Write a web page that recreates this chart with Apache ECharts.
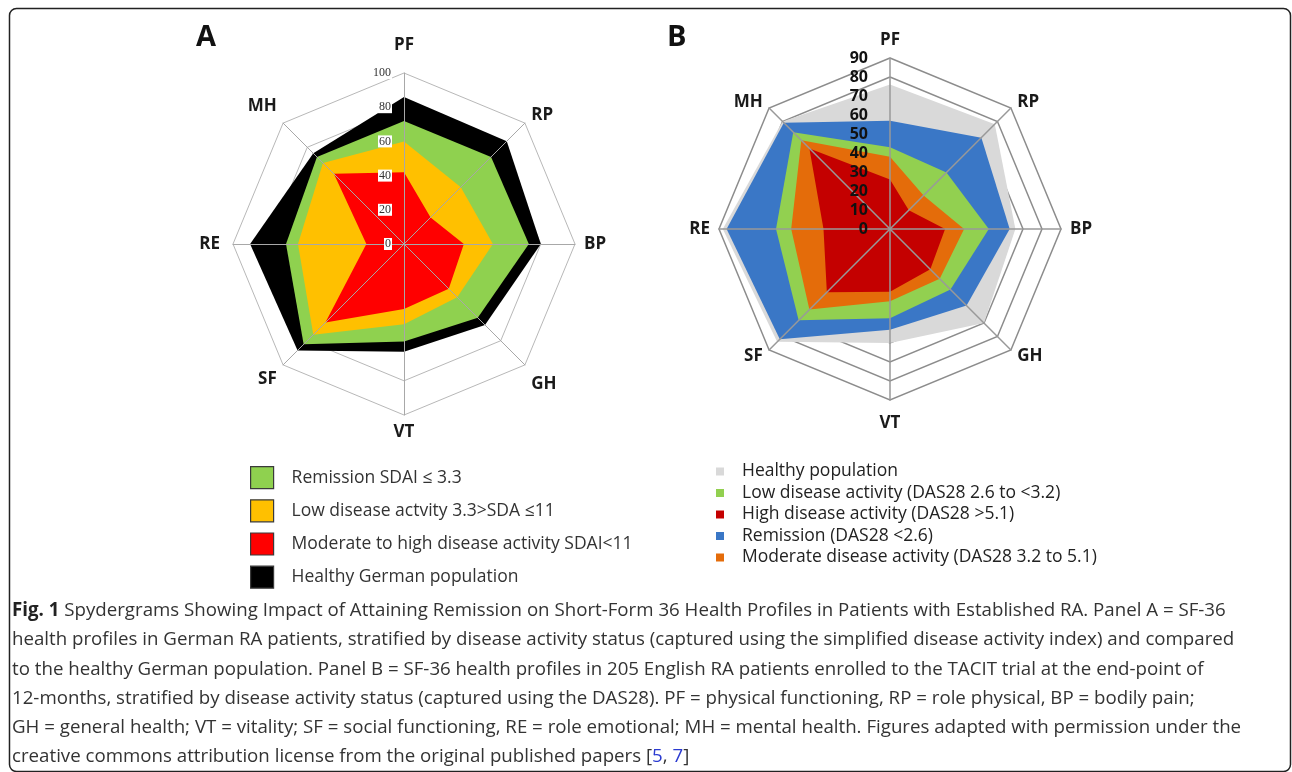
<!DOCTYPE html>
<html><head><meta charset="utf-8">
<script src="https://cdn.jsdelivr.net/npm/echarts@6/dist/echarts.min.js"></script>
<style>html,body{margin:0;padding:0;background:#fff}#c{width:1292px;height:772px}</style>
</head><body><div id="c"></div>
<script>
// Axis names, listed clockwise from the top
const axisNames = ['PF', 'RP', 'BP', 'GH', 'VT', 'SF', 'RE', 'MH'];
const ticksA = [0, 20, 40, 60, 80, 100];
const ticksB = [0, 10, 20, 30, 40, 50, 60, 70, 80, 90];

// Panel A (values per axis, clockwise PF..MH)
const namesA = ['Healthy German population', 'Remission SDAI \u2264 3.3', 'Low disease actvity 3.3>SDA \u226411', 'Moderate to high disease activity SDAI<11'];
const healthyGerman = [86, 85, 80, 67, 63, 88, 90, 75];
const remissionA    = [72, 72, 73, 61, 57, 83, 69, 72];
const lowA          = [60, 47, 52, 44, 47, 75, 62, 67];
const modHighA      = [42, 22, 35, 37, 38, 65, 22, 58];
const legendOrderA = [1, 2, 3, 0];

// Panel B
const namesB = ['Healthy population', 'Remission (DAS28 <2.6)', 'Low disease activity (DAS28 2.6 to <3.2)', 'Moderate disease activity (DAS28 3.2 to 5.1)', 'High disease activity (DAS28 >5.1)'];
const healthyPop  = [76, 78, 66, 70, 60, 84, 88, 80];
const remissionB  = [57, 68, 63, 57, 53, 82, 86, 79];
const lowB        = [43, 42, 52, 45, 47, 68, 60, 72];
const moderateB   = [38, 25, 39, 37, 38, 60, 52, 66];
const highB       = [26, 14, 29, 30, 33, 47, 35, 60];
const legendOrderB = [0, 2, 4, 1, 3];

const colorsA = ['#000000', '#8fd14f', '#ffc000', '#ff0000'];
const colorsB = ['#d9d9d9', '#3a77c6', '#92d050', '#e46c0a', '#c40000'];

const captionLines = [
  '{b|Fig. 1} Spydergrams Showing Impact of Attaining Remission on Short-Form 36 Health Profiles in Patients with Established RA. Panel A = SF-36',
  'health profiles in German RA patients, stratified by disease activity status (captured using the simplified disease activity index) and compared',
  'to the healthy German population. Panel B = SF-36 health profiles in 205 English RA patients enrolled to the TACIT trial at the end-point of',
  '12-months, stratified by disease activity status (captured using the DAS28). PF = physical functioning, RP = role physical, BP = bodily pain;',
  'GH = general health; VT = vitality; SF = social functioning, RE = role emotional; MH = mental health. Figures adapted with permission under the',
  'creative commons attribution license from the original published papers [{l|5}, {l|7}]'
];

// ECharts radar runs counter-clockwise: PF, MH, RE, SF, VT, GH, BP, RP
const ccw = a => [a[0]].concat(a.slice(1).reverse());
const namesCCW = ccw(axisNames);

const nameFont = { color: '#1a1a1a', fontSize: 17, fontWeight: 'bold', fontFamily: 'Open Sans' };
// per-axis label nudges (padding: [top, right, bottom, left])
function nameRich(pads) {
  const rich = {};
  axisNames.forEach(n => { rich[n] = Object.assign({}, nameFont, { padding: pads[n] || [0, 0, 0, 0] }); });
  return rich;
}
const padsA = { PF: [0, 0, 10, 0], MH: [0, 0, 22, 0], RP: [0, 0, 4, 0], GH: [26, 0, 0, 0], SF: [16, 0, 0, 0], RE: [0, 4, 0, 0] };
const padsB = { VT: [6, 0, 0, 0] };

function radarPair(center, ticks, opts) {
  const max = ticks[ticks.length - 1];
  const split = ticks.length - 1;
  const base = {
    center: center, radius: 171, startAngle: 90, shape: 'polygon', splitNumber: split,
    indicator: namesCCW.map(n => ({ name: n, min: 0, max: max })),
    axisName: Object.assign({}, nameFont, { formatter: n => '{' + n + '|' + n + '}', rich: nameRich(opts.pads) }),
    axisNameGap: 9,
    splitLine: { lineStyle: { color: opts.ringColor, width: opts.ringWidth } },
    splitArea: { show: false },
    axisLine: { show: false }, axisTick: { show: false }, axisLabel: { show: false },
    z: 0
  };
  const top = {
    center: center, radius: 171, startAngle: 90, shape: 'polygon', splitNumber: split,
    indicator: namesCCW.map((n, i) => ({ name: n, min: 0, max: max, axisLabel: { show: i === 0 } })),
    axisName: { show: false },
    splitLine: { show: false }, splitArea: { show: false },
    axisLine: { show: true, lineStyle: { color: opts.spokeColor, width: opts.spokeWidth } },
    axisTick: { show: false },
    axisLabel: Object.assign({ show: true }, opts.label),
    z: 5
  };
  return [base, top];
}

const radA = radarPair([404, 244], ticksA, {
  pads: padsA,
  ringColor: '#b8b8b8', ringWidth: 1, spokeColor: '#a8a8a8', spokeWidth: 1,
  label: { margin: 12, color: '#333', fontFamily: 'Liberation Serif', fontSize: 12, backgroundColor: '#fff', padding: [0, 1] }
});
const radB = radarPair([890, 229], ticksB, {
  pads: padsB,
  ringColor: '#8c8c8c', ringWidth: 1.5, spokeColor: '#999', spokeWidth: 1.5,
  label: { margin: 22, color: '#111', fontFamily: 'Open Sans', fontWeight: 'bold', fontSize: 16 }
});

function areaSeries(radarIndex, name, values, color) {
  return {
    type: 'radar', radarIndex: radarIndex, name: name, symbol: 'none', silent: true,
    lineStyle: { width: 0 }, itemStyle: { color: color },
    areaStyle: { color: color, opacity: 1 },
    data: [{ name: name, value: ccw(values) }]
  };
}

const dataA = [healthyGerman, remissionA, lowA, modHighA];
const dataB = [healthyPop, remissionB, lowB, moderateB, highB];
const series = [];
dataA.forEach((d, i) => series.push(areaSeries(0, namesA[i], d, colorsA[i])));
dataB.forEach((d, i) => series.push(areaSeries(2, namesB[i], d, colorsB[i])));

const capFont = { fontFamily: 'Open Sans', fontSize: 18.7, fontWeight: 'normal', color: '#333', lineHeight: 29.3 };

const option = {
  animation: false,
  backgroundColor: '#fff',
  radar: [radA[0], radA[1], radB[0], radB[1]],
  title: [
    { text: 'A', left: 196, top: 23, padding: 0, textStyle: { fontSize: 29, fontWeight: 'bold', fontFamily: 'Open Sans', color: '#111' } },
    { text: 'B', left: 667, top: 23, padding: 0, textStyle: { fontSize: 29, fontWeight: 'bold', fontFamily: 'Open Sans', color: '#111' } },
    {
      text: captionLines.join('\n'), left: 12, top: 596, padding: 0,
      textStyle: Object.assign({}, capFont, {
        rich: {
          b: Object.assign({}, capFont, { fontWeight: 'bold', color: '#222' }),
          l: Object.assign({}, capFont, { color: '#2b3bd1' })
        }
      })
    }
  ],
  legend: [
    {
      orient: 'vertical', left: 250, top: 466, padding: 0, icon: 'rect', itemWidth: 23, itemHeight: 22, itemGap: 10,
      selectedMode: false,
      itemStyle: { borderColor: '#3a3a3a', borderWidth: 1.2 },
      textStyle: { fontFamily: 'Open Sans', fontSize: 17.5, color: '#333', padding: [0, 0, 0, 13] },
      data: legendOrderA.map(i => namesA[i])
    },
    {
      orient: 'vertical', left: 716, top: 462.5, padding: 0, icon: 'rect', itemWidth: 8, itemHeight: 8, itemGap: 3.5,
      selectedMode: false,
      textStyle: { fontFamily: 'Open Sans', fontSize: 17.5, color: '#222', lineHeight: 18, padding: [0, 0, 0, 13] },
      data: legendOrderB.map(i => namesB[i])
    }
  ],
  graphic: [{
    type: 'rect', silent: true, z: 100,
    shape: { x: 9.5, y: 8.5, width: 1281, height: 763, r: 7 },
    style: { fill: 'none', stroke: '#222', lineWidth: 1.5 }
  }],
  series: series
};

const chart = echarts.init(document.getElementById('c'), null, { renderer: 'canvas' });
chart.setOption(option);
</script>
</body></html>
